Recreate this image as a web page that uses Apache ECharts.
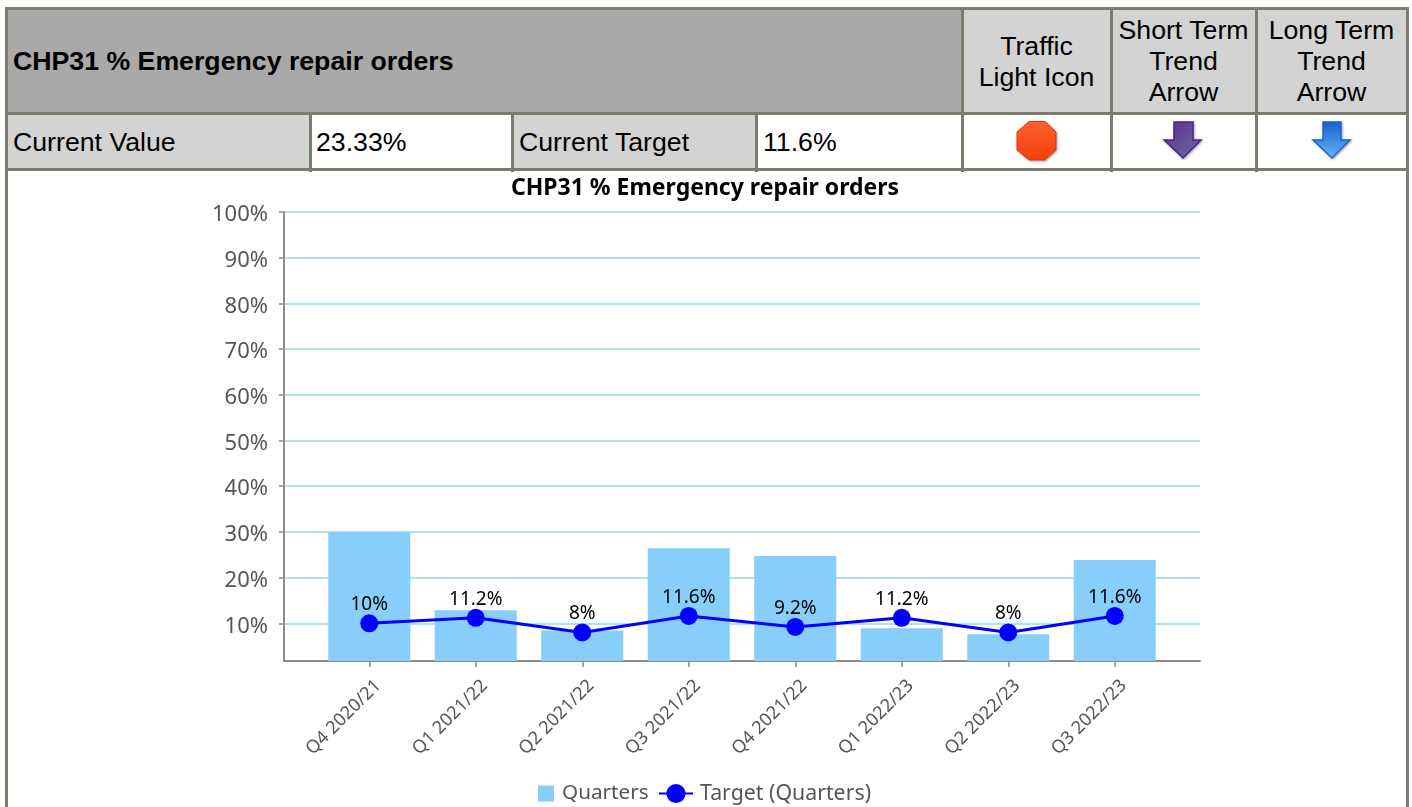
<!DOCTYPE html>
<html><head><meta charset="utf-8">
<script src="https://cdn.jsdelivr.net/npm/echarts@6/dist/echarts.min.js"></script>
<style>
html,body{margin:0;padding:0;background:#fff;overflow:hidden;width:1412px;height:807px}
.c{position:absolute;box-sizing:border-box;font-family:"Liberation Sans",Arial,sans-serif;font-size:26.7px;color:#000;display:flex;align-items:center;line-height:31px}
.g{background:#d3d3d3}.d{background:#a9a9a9;font-weight:bold}.m{justify-content:center;text-align:center}
.l{position:absolute;background:#7b7b6f}
#chart{position:absolute;left:0;top:0;width:1412px;height:807px;filter:blur(.4px)}
</style></head><body>
<div class="c d" style="left:7px;top:9px;width:954px;height:103px;padding-left:6px;padding-top:2px">CHP31 % Emergency repair orders</div>
<div class="c g m" style="left:963px;top:9px;width:147px;height:103px;padding-top:2px">Traffic<br>Light Icon</div>
<div class="c g m" style="left:1112px;top:9px;width:143px;height:103px;padding-top:2px">Short Term<br>Trend<br>Arrow</div>
<div class="c g m" style="left:1257px;top:9px;width:149px;height:103px;padding-top:2px">Long Term<br>Trend<br>Arrow</div>
<div class="c g" style="left:7px;top:114px;width:302px;height:54px;padding-left:6px;padding-top:2px">Current Value</div>
<div class="c" style="left:311px;top:114px;width:200px;height:54px;padding-left:5px;padding-top:2px">23.33%</div>
<div class="c g" style="left:513px;top:114px;width:242px;height:54px;padding-left:6px;padding-top:2px">Current Target</div>
<div class="c" style="left:757px;top:114px;width:204px;height:54px;padding-left:6px;padding-top:2px">11.6%</div>
<div class="l" style="left:6px;top:7px;width:1403px;height:3px"></div>
<div class="l" style="left:6px;top:112px;width:1403px;height:3px"></div>
<div class="l" style="left:6px;top:168px;width:1403px;height:3px"></div>
<div class="l" style="left:5px;top:7px;width:3px;height:800px"></div>
<div class="l" style="left:1406px;top:7px;width:3px;height:800px"></div>
<div class="l" style="left:961px;top:7px;width:3px;height:165px"></div>
<div class="l" style="left:1110px;top:7px;width:3px;height:165px"></div>
<div class="l" style="left:1255px;top:7px;width:3px;height:165px"></div>
<div class="l" style="left:309px;top:114px;width:3px;height:58px"></div>
<div class="l" style="left:511px;top:114px;width:3px;height:58px"></div>
<div class="l" style="left:755px;top:114px;width:3px;height:58px"></div>
<svg style="position:absolute;left:0;top:0" width="1412" height="200">
<defs>
<linearGradient id="r" x1="0" y1="0" x2="0" y2="1"><stop offset="0" stop-color="#ff6030"/><stop offset="1" stop-color="#f4400c"/></linearGradient>
<linearGradient id="p" x1="0" y1="0" x2="1" y2="1"><stop offset="0" stop-color="#5a2f90"/><stop offset="1" stop-color="#6c6c98"/></linearGradient>
<linearGradient id="b" x1="0" y1="0" x2="0" y2="1"><stop offset="0" stop-color="#1560d2"/><stop offset="1" stop-color="#69b4f2"/></linearGradient>
<filter id="s" x="-20%" y="-20%" width="140%" height="140%"><feDropShadow dx="1" dy="1" stdDeviation="0.8" flood-color="#000" flood-opacity=".35"/></filter>
</defs>
<polygon points="1029,121.500 1045,121.500 1056,132 1056,150 1045,160 1029,160 1017,150 1017,132" fill="url(#r)" stroke="#d0380e" stroke-width="1" filter="url(#s)"/>
<polygon points="1174,122 1193,122 1193,140 1201,140 1183,158 1164,140 1174,140" fill="url(#p)" stroke="#4c2488" stroke-width="1.500" filter="url(#s)"/>
<polygon points="1323,122 1341,122 1341,140 1350,140 1332,158 1313,140 1323,140" fill="url(#b)" stroke="#1a66c8" stroke-width="1.500" filter="url(#s)"/>
</svg>
<div id="chart"></div>
<script>
const chartTitle = 'CHP31 % Emergency repair orders';
const categories = ['Q4 2020/21','Q1 2021/22','Q2 2021/22','Q3 2021/22','Q4 2021/22','Q1 2022/23','Q2 2022/23','Q3 2022/23'];
const quarters = [30, 12.85, 8.45, 26.4, 24.7, 8.9, 7.6, 23.85];
const target = [10, 11.2, 8, 11.6, 9.2, 11.2, 8, 11.6];
const yTicks = [10,20,30,40,50,60,70,80,90,100];
const yMin = 1.75, yMax = 100;

const font = '"Noto Sans", sans-serif';
const chart = echarts.init(document.getElementById('chart'), null, {renderer:'canvas'});
chart.setOption({
  animation:false,
  backgroundColor:'transparent',
  title:{text:chartTitle,left:700,top:172,textAlign:'center',textStyle:{fontFamily:font,fontSize:23,fontWeight:'bold',color:'#000'}},
  legend:[
    {data:[{name:'Quarters',icon:'rect'}],left:533,top:778,itemWidth:16,itemHeight:16,itemGap:0,textStyle:{fontFamily:font,fontSize:20.7,color:'#555',padding:[0,0,0,3]}},
    {data:['Target (Quarters)'],left:653,top:778,itemWidth:34,itemHeight:24,textStyle:{fontFamily:font,fontSize:21.3,color:'#555',padding:[0,0,0,2]}}
  ],
  grid:[
    {left:284,top:212,width:916,height:449},
    {left:316,top:212,width:852,height:449}
  ],
  xAxis:[
    {gridIndex:0,type:'value',min:0,max:1,axisLabel:{show:false},axisTick:{show:false},splitLine:{show:false},
     axisLine:{show:true,onZero:false,lineStyle:{color:'#8c8c8c',width:2}}},
    {gridIndex:1,type:'category',data:categories,axisLine:{show:false},
     axisTick:{show:true,alignWithLabel:true,length:6,lineStyle:{color:'#8c8c8c',width:1.5}},
     axisLabel:{interval:0,rotate:45,fontFamily:font,fontSize:18,color:'#555',margin:13,verticalAlign:'top',lineHeight:25}}
  ],
  yAxis:[
    {gridIndex:0,type:'value',min:yMin,max:yMax,interval:10,
     axisLine:{show:true,lineStyle:{color:'#8c8c8c',width:2}},
     axisTick:{show:true,length:5,customValues:yTicks,lineStyle:{color:'#8c8c8c',width:1.5}},
     axisLabel:{customValues:yTicks,fontFamily:font,fontSize:22,color:'#555',margin:16,verticalAlign:'top',lineHeight:6,formatter:'{value}%'},
     splitLine:{show:true,lineStyle:{color:'#b4dfec',width:2}}},
    {gridIndex:1,type:'value',min:yMin,max:yMax,show:false,splitLine:{show:false}}
  ],
  series:[
    {name:'Quarters',type:'bar',xAxisIndex:1,yAxisIndex:1,data:quarters,barWidth:82,itemStyle:{color:'#87cefa'},z:2},
    {name:'Target (Quarters)',type:'line',xAxisIndex:1,yAxisIndex:1,data:target,symbol:'circle',symbolSize:18,
     lineStyle:{color:'#0000ff',width:3},itemStyle:{color:'#0000ff'},z:3,
     label:{show:true,position:'top',distance:0,fontFamily:font,fontSize:19,color:'#000',formatter:'{c}%'}}
  ]
});
</script>
</body></html>
